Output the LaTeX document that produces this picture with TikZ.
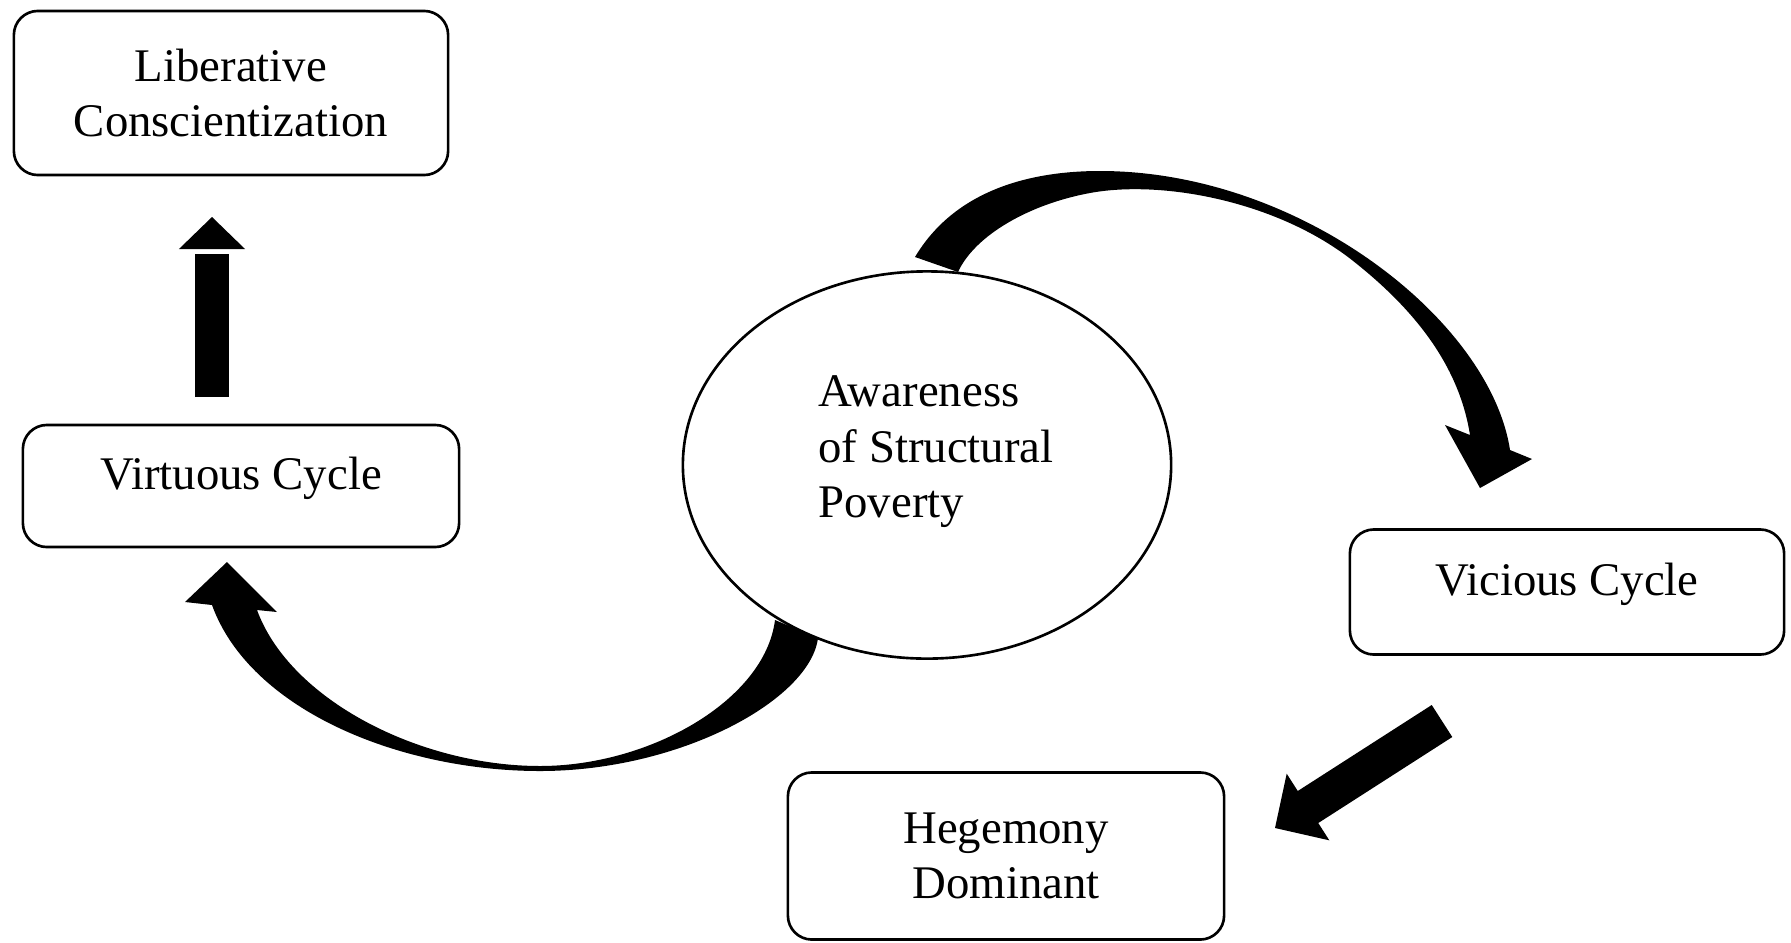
\documentclass[tikz,border=0pt]{standalone}
\usepackage{fontspec}
\setmainfont{Liberation Serif}
\usepackage{tikz}
\usetikzlibrary{shapes}

\begin{document}
\begin{tikzpicture}[x=0.01cm,y=-0.01cm,
        font=\fontsize{13.3}{15.8}\selectfont,
        box/.style={draw=black,line width=0.75pt,rounded corners=0.24cm,
            minimum width=4.34cm,align=center},
        oneline/.style={text height=9pt,text depth=7pt},
        shaft/.style={line width=0.34cm}]

        \useasboundingbox (0,0) rectangle (1791,942);

        \node[box,minimum height=1.64cm] (lib) at (231,93) {Liberative\\Conscientization};
        \node[box,oneline,minimum width=4.36cm,minimum height=1.22cm] (vir) at (241,486) {Virtuous Cycle};
        \node[box,oneline,minimum height=1.25cm] (vic) at (1567,592) {Vicious Cycle};
        \node[box,minimum width=4.36cm,minimum height=1.67cm] (heg) at (1006,856) {Hegemony\\Dominant};

        \node[draw=black,line width=0.75pt,ellipse,minimum width=4.88cm,minimum height=3.87cm] (aw) at (927,465) {};
        \node[align=left] (awtext) at (936,452) {Awareness\\of Structural\\Poverty};

        % virtuous -> liberative
        \coordinate (upfrom) at (212,397);
        \coordinate (upbase) at (212,249);
        \coordinate (upto) at (212,217);
        \draw[shaft] (upfrom) -- ([yshift=-0.05cm]upbase);
        \fill ([xshift=-0.33cm]upbase) -- (upto) -- ([xshift=0.33cm]upbase) -- cycle;

        % vicious -> hegemony
        \coordinate (vicout) at (1442,721);
        \coordinate (dbase) at (1308,807);
        \coordinate (hegin) at (1275,828);
        \draw[shaft,line width=0.38cm] (vicout) -- (1303.8,809.7);
        \fill ([xshift=0.213cm,yshift=-0.333cm]dbase) -- (hegin) -- ([xshift=-0.213cm,yshift=0.333cm]dbase) -- cycle;

        % awareness -> vicious
        \fill (915,257) .. controls (955,190) and (1030,171) .. (1100,171)
            .. controls (1300,171) and (1490,320) .. (1510,450)
            -- (1532,459) -- (1480,488) -- (1445,425) -- (1470,435)
            .. controls (1460,372) and (1422,314) .. (1348,257)
            .. controls (1272,200) and (1160,180) .. (1090,193)
            .. controls (1030,204) and (975,235) .. (958,272)
            -- cycle;

        % awareness -> virtuous
        \fill (818,638) .. controls (810,700) and (680,771) .. (540,771)
            .. controls (400,771) and (250,710) .. (212,605)
            -- (185,602) -- (227,562) -- (277,612) -- (257,610)
            .. controls (290,700) and (420,766) .. (540,766)
            .. controls (650,766) and (765,700) .. (775,620)
            -- cycle;

    \end{tikzpicture}
\end{document}
